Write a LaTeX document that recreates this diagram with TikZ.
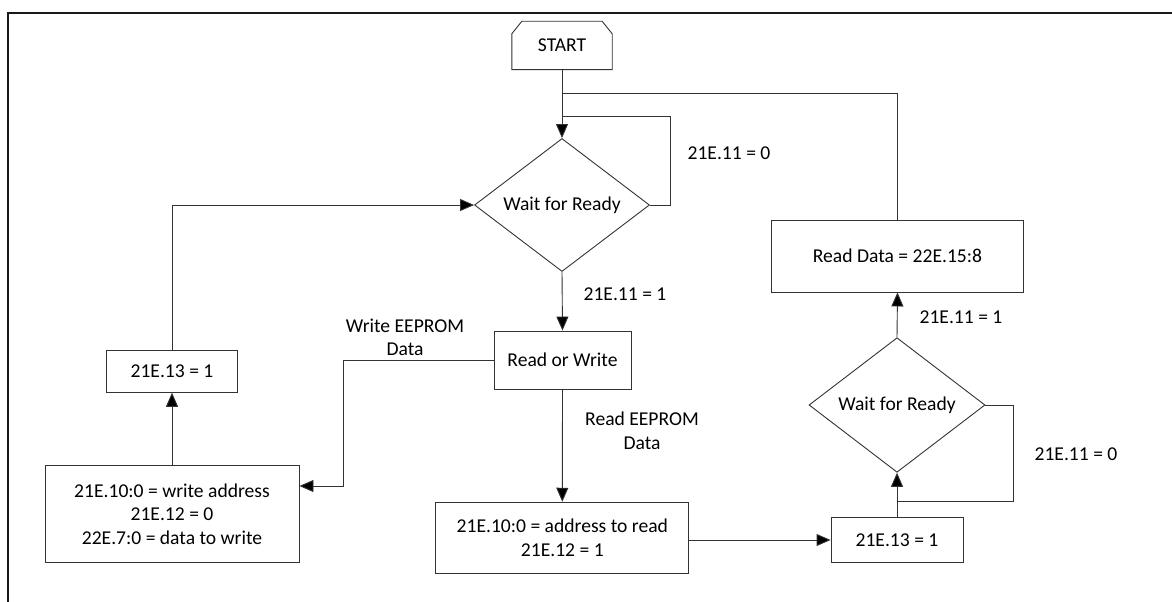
\documentclass[tikz,border=0pt]{standalone}
\usepackage{fontspec}
\setmainfont{Carlito}
\usetikzlibrary{shapes.geometric,arrows.meta,calc}
\begin{document}
\begin{tikzpicture}[x=1pt,y=-1pt,
  every node/.style={font=\fontsize{19.6}{23.5}\selectfont, text=black},
  ln/.style={draw=black!80, line width=0.9pt},
  arr/.style={ln, -{Triangle[length=14pt,width=12pt,fill=black]}},
  box/.style={ln, rectangle, inner sep=0pt, align=center},
  dec/.style={ln, diamond, aspect=1.3, inner sep=0pt, minimum width=175pt, minimum height=133pt},
  lbl/.style={inner sep=0pt, align=center}
]
\useasboundingbox (0,0) rectangle (1172,602);
% frame
\draw[line width=2pt, black!90] (7.5,610) -- (7.5,13.5) -- (1180,13.5);

% nodes
\node[inner sep=0pt, minimum width=100pt, minimum height=48pt] (start) at (562,45.5) {START};
\draw[ln] (start.south west) -- ($(start.north west)+(0,12.5)$) -- ($(start.north west)+(10,0)$)
  -- ($(start.north east)+(-10,0)$) -- ($(start.north east)+(0,12.5)$) -- (start.south east) -- cycle;

\node[dec] (d1) at (562,205) {Wait for Ready};
\node[box, minimum width=137pt, minimum height=58pt] (rw) at (562.5,360) {Read or Write};
\node[box, minimum width=131pt, minimum height=41.6pt] (b1) at (172,371.5) {21E.13 = 1};
\node[box, minimum width=254pt, minimum height=97pt] (wa) at (172,514) {21E.10:0 = write address\\21E.12 = 0\\22E.7:0 = data to write};
\node[box, minimum width=253pt, minimum height=71pt] (ad) at (562.3,537.7) {21E.10:0 = address to read\\21E.12 = 1};
\node[box, minimum width=132pt, minimum height=44.6pt] (b2) at (897,540) {21E.13 = 1};
\node[dec, minimum width=176pt, minimum height=134.6pt] (d2) at (897,405) {Wait for Ready};
\node[box, minimum width=252pt, minimum height=72pt] (rd) at (897.5,256) {Read Data = 22E.15:8};

% labels
\node[lbl] (l1) at (729,153) {21E.11 = 0};
\node[lbl] (l2) at (625,294) {21E.11 = 1};
\node[lbl] (l3) at (405,337.5) {Write EEPROM\\Data};
\node[lbl] (l4) at (642,431) {Read EEPROM\\Data};
\node[lbl] (l5) at (1076,454) {21E.11 = 0};
\node[lbl] (l6) at (961,317) {21E.11 = 1};

% coordinates
\coordinate (j1) at (562,93.3);
\coordinate (j2) at (562,116.7);
\coordinate (c1) at (670.7,116.7);
\coordinate (c3a) at (343,360);
\coordinate (c3b) at (343,486);
\coordinate (c4) at (1013.3,501);
\coordinate (j4) at (897,501);

% connectors
\draw[arr] (start.south) -- (d1.north);
\draw[ln] (d1.east) -| (c1) -- (j2);
\draw[ln] (rd.north) |- (j1);
\draw[arr] (d1.south) -- (rw.north);
\draw[arr] (rw.west) -- (c3a) -- (c3b) -- (c3b -| wa.east);
\draw[arr] (wa.north) -- (b1.south);
\draw[arr] (b1.north) |- (d1.west);
\draw[arr] (rw.south) -- (ad.north);
\draw[arr] (ad.east |- b2.west) -- (b2.west);
\draw[arr] (b2.north) -- (d2.south);
\draw[ln] (d2.east) -| (c4) -- (j4);
\draw[arr] (d2.north) -- (rd.south);
\end{tikzpicture}
\end{document}
